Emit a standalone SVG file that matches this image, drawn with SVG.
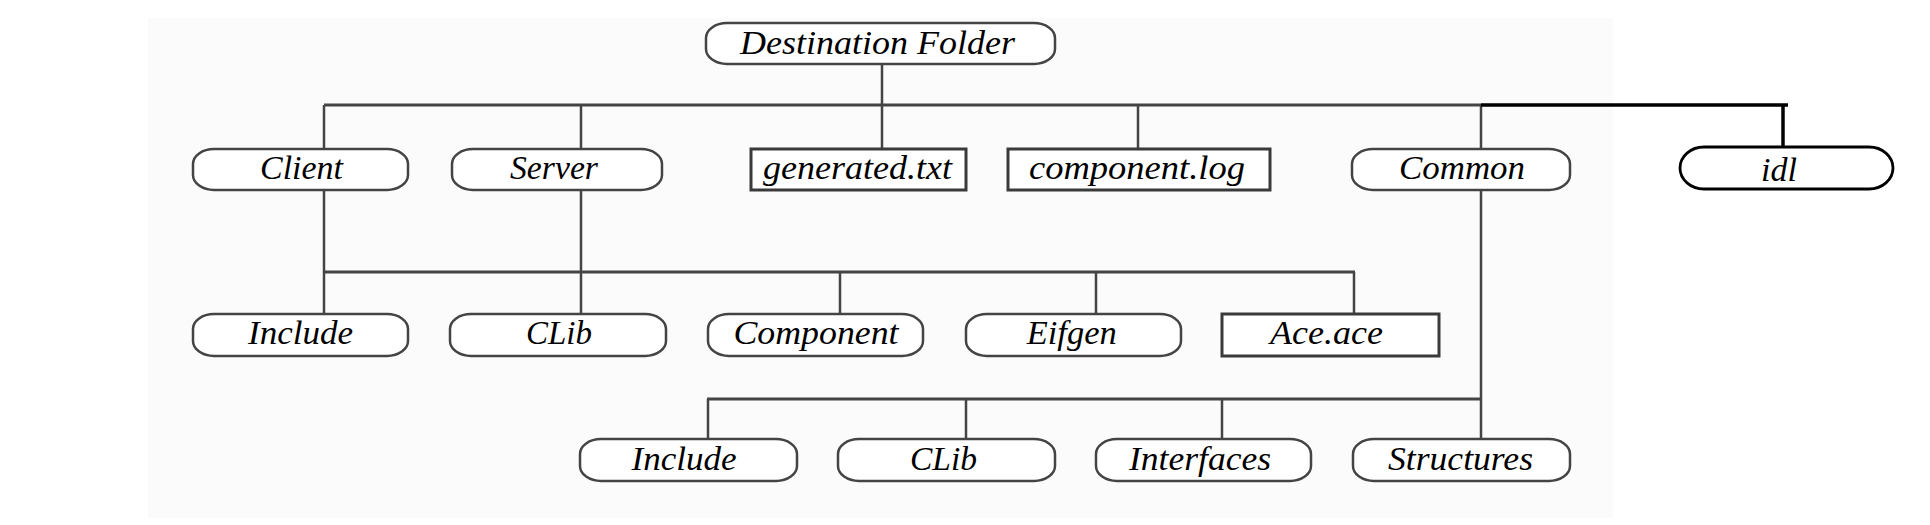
<svg xmlns="http://www.w3.org/2000/svg" width="1930" height="525" viewBox="0 0 1930 525">
<style>
.pill{fill:#fff;stroke:#444;stroke-width:2.5}
.box{fill:#fff;stroke:#3a3a3a;stroke-width:3}
.idl{fill:#fff;stroke:#000;stroke-width:2.8}
.t{font-family:"Liberation Serif",serif;font-style:italic;font-size:34px;fill:#000;text-anchor:middle}
.c{fill:none;stroke:#444;stroke-width:2.5}
.bus{fill:none;stroke:#444;stroke-width:3}
.blk{fill:none;stroke:#000;stroke-width:3.5}
</style>
<rect x="0" y="0" width="1930" height="525" fill="#fff"/>
<rect x="148" y="18" width="1465" height="500" fill="#fbfbfb"/>
<g id="connectors">
<path class="c" d="M882 64V105M324 105V149M581 105V149M882 105V149M1138 105V149M1481 105V149"/>
<path class="bus" d="M324 105H1481"/>
<path class="blk" d="M1481 105H1788M1783 105V147"/>
<path class="c" d="M324 190V314M581 190V314M840 272V314M1096 272V314M1354 272V314"/>
<path class="bus" d="M324 272H1355"/>
<path class="c" d="M1481 190V439M708 399V439M966 399V439M1222 399V439"/>
<path class="bus" d="M707 399H1482"/>
</g>
<g id="dest"><rect class="pill" x="706" y="23" width="349" height="41" rx="21" ry="15"/><text class="t" x="877.5" y="54" textLength="275" lengthAdjust="spacingAndGlyphs">Destination  Folder</text></g>
<g id="client"><rect class="pill" x="193" y="149" width="215" height="41" rx="21" ry="15"/><text class="t" x="301.5" y="179" textLength="83" lengthAdjust="spacingAndGlyphs">Client</text></g>
<g id="server"><rect class="pill" x="452" y="149" width="210" height="41" rx="21" ry="15"/><text class="t" x="554" y="179" textLength="88" lengthAdjust="spacingAndGlyphs">Server</text></g>
<g id="generated"><rect class="box" x="751" y="149" width="215" height="41"/><text class="t" x="857.5" y="179" textLength="189" lengthAdjust="spacingAndGlyphs">generated.txt</text></g>
<g id="componentlog"><rect class="box" x="1008" y="149" width="262" height="41"/><text class="t" x="1137" y="179" textLength="216" lengthAdjust="spacingAndGlyphs">component.log</text></g>
<g id="common"><rect class="pill" x="1352" y="149" width="218" height="41" rx="21" ry="15"/><text class="t" x="1462" y="179" textLength="126" lengthAdjust="spacingAndGlyphs">Common</text></g>
<g id="idl"><rect class="idl" x="1680" y="147" width="213" height="42" rx="24" ry="21"/><text class="t" x="1779" y="181" fill="#111">idl</text></g>
<g id="include1"><rect class="pill" x="193" y="314" width="215" height="42" rx="21" ry="15"/><text class="t" x="300.5" y="344" textLength="105" lengthAdjust="spacingAndGlyphs">Include</text></g>
<g id="clib1"><rect class="pill" x="450" y="314" width="216" height="42" rx="21" ry="15"/><text class="t" x="559" y="344" textLength="66" lengthAdjust="spacingAndGlyphs">CLib</text></g>
<g id="component"><rect class="pill" x="708" y="314" width="215" height="42" rx="21" ry="15"/><text class="t" x="816" y="344" textLength="165" lengthAdjust="spacingAndGlyphs">Component</text></g>
<g id="eifgen"><rect class="pill" x="966" y="314" width="215" height="42" rx="21" ry="15"/><text class="t" x="1071.7" y="344" textLength="90" lengthAdjust="spacingAndGlyphs">Eifgen</text></g>
<g id="ace"><rect class="box" x="1222" y="314" width="217" height="42"/><text class="t" x="1326.5" y="344" textLength="113" lengthAdjust="spacingAndGlyphs">Ace.ace</text></g>
<g id="include2"><rect class="pill" x="580" y="439" width="217" height="42" rx="21" ry="15"/><text class="t" x="684" y="470" textLength="105" lengthAdjust="spacingAndGlyphs">Include</text></g>
<g id="clib2"><rect class="pill" x="838" y="439" width="217" height="42" rx="21" ry="15"/><text class="t" x="943.5" y="470" textLength="67" lengthAdjust="spacingAndGlyphs">CLib</text></g>
<g id="interfaces"><rect class="pill" x="1096" y="439" width="215" height="42" rx="21" ry="15"/><text class="t" x="1200" y="470" textLength="142" lengthAdjust="spacingAndGlyphs">Interfaces</text></g>
<g id="structures"><rect class="pill" x="1353" y="439" width="217" height="42" rx="21" ry="15"/><text class="t" x="1460.5" y="470" textLength="145" lengthAdjust="spacingAndGlyphs">Structures</text></g>
</svg>
